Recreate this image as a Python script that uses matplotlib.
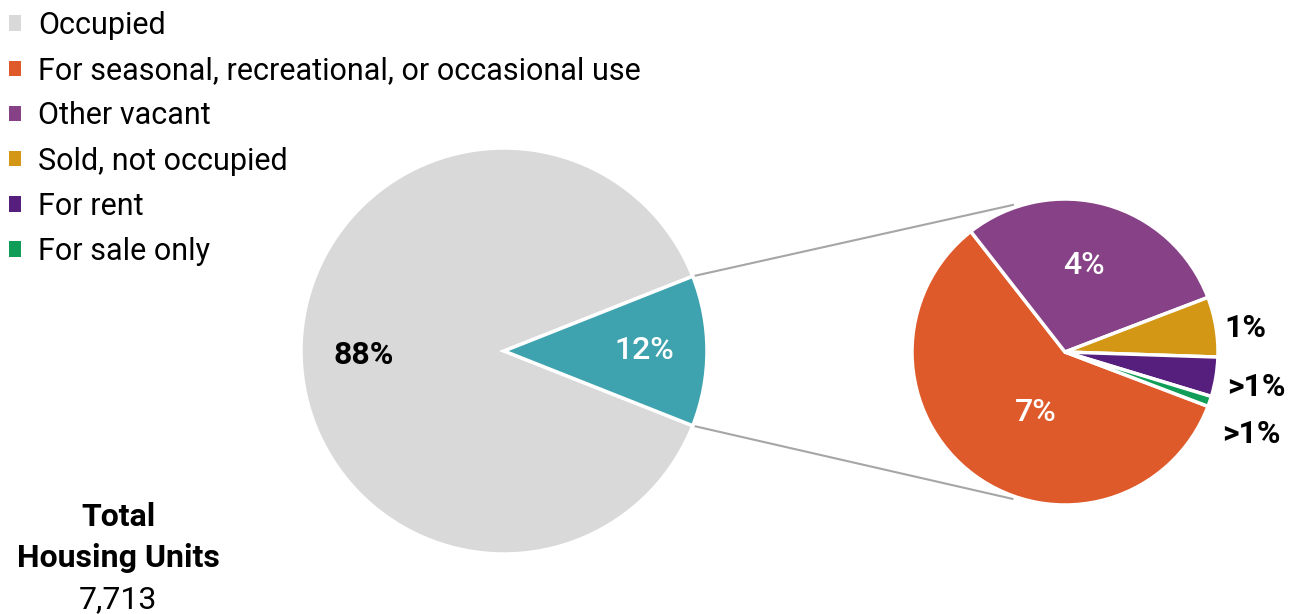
import numpy as np
import matplotlib
matplotlib.use("Agg")
import matplotlib.pyplot as plt
from matplotlib.patches import Patch

plt.rcParams['font.family'] = ['Roboto', 'DejaVu Sans']

# dados
main_labels = ['Occupied', 'Vacant']
main_values = [88, 12]
main_colors = ['#d9d9d9', '#3ea3ae']

vac_labels = ['For seasonal, recreational, or occasional use', 'Other vacant',
              'Sold, not occupied', 'For rent', 'For sale only']
vac_values = [7.04, 3.57, 0.76, 0.50, 0.13]
vac_text = ['7%', '4%', '1%', '>1%', '>1%']
vac_colors = ['#df5a2b', '#874186', '#d39615', '#561f7d', '#0f9d58']

total_units = '7,713'

W, H = 1297, 614
fig = plt.figure(figsize=(W / 100, H / 100), dpi=100)
ax = fig.add_axes([0, 0, 1, 1])

c1, r1 = (504, H - 351), 203
c2, r2 = (1065, H - 352), 153

# pizza principal
w1, t1, a1 = ax.pie(main_values, colors=main_colors, startangle=180 * main_values[1] / 100,
                    center=c1, radius=r1, autopct='%.0f%%', pctdistance=0.69,
                    wedgeprops=dict(edgecolor='white', linewidth=2.5), frame=False)
a1[0].set(color='black', fontweight='bold', fontsize=23)
a1[1].set(color='white', fontsize=23, fontweight='medium')
a1[0].set_y(a1[0].get_position()[1] - 4)

# pizza das vagas
w2, t2 = ax.pie(vac_values, colors=vac_colors, startangle=-20.8, counterclock=False,
                center=c2, radius=r2,
                wedgeprops=dict(edgecolor='white', linewidth=2.5), frame=False)

dist = [0.44, 0.58, 1.19, 1.27, 1.33]
nudge = [11, 3, -2, -1, -5]
for w, txt, d, n in zip(w2, vac_text, dist, nudge):
    ang = np.deg2rad((w.theta1 + w.theta2) / 2 + n)
    x = c2[0] + d * r2 * np.cos(ang)
    y = c2[1] + d * r2 * np.sin(ang)
    inside = d < 1
    ax.text(x, y, txt, ha='center', va='center', fontsize=23,
            color='white' if inside else 'black',
            fontweight='medium' if inside else 'bold')

# linhas de ligacao
wv = w1[1]
for th1, th2 in [(wv.theta2, 109.5), (wv.theta1, -109.7)]:
    p1 = (c1[0] + r1 * np.cos(np.deg2rad(th1)), c1[1] + r1 * np.sin(np.deg2rad(th1)))
    p2 = (c2[0] + (r2 + 3) * np.cos(np.deg2rad(th2)), c2[1] + (r2 + 3) * np.sin(np.deg2rad(th2)))
    ax.plot([p1[0], p2[0]], [p1[1], p2[1]], color='#a6a6a6', linewidth=1.5, zorder=0)

ax.set_xlim(0, W)
ax.set_ylim(0, H)
ax.axis('off')

handles = [Patch(facecolor=main_colors[0])] + [Patch(facecolor=c) for c in vac_colors]
leg = ax.legend(handles, [main_labels[0]] + vac_labels, loc='upper left',
                bbox_to_anchor=(9 / W, 1 - 11 / H), frameon=False, fontsize=22,
                handlelength=0.4, handleheight=0.4, handletextpad=0.55,
                labelspacing=0.53, borderaxespad=0, borderpad=0)

ax.text(118, H - 517, 'Total', ha='center', va='center', fontsize=23, fontweight='bold')
ax.text(118, H - 558, 'Housing Units', ha='center', va='center', fontsize=23, fontweight='bold')
ax.text(118, H - 600, total_units, ha='center', va='center', fontsize=23)

fig.savefig('out.png', dpi=100)
